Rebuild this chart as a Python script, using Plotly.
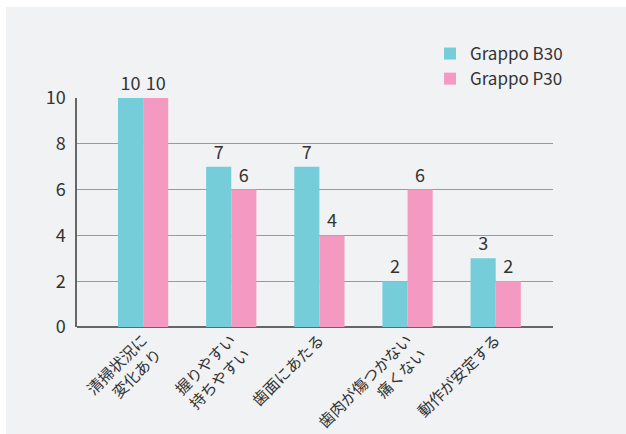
import plotly.graph_objects as go

categories = ["清掃状況に<br>変化あり", "握りやすい<br>持ちやすい", "歯面にあたる", "歯肉が傷つかない<br>痛くない", "動作が安定する"]
series_names = ["Grappo B30", "Grappo P30"]
b30 = [10, 7, 7, 2, 3]
p30 = [10, 6, 4, 6, 2]
y_ticks = [0, 2, 4, 6, 8, 10]

colors = ["#74CDD8", "#F49AC2"]
font_family = "Noto Sans CJK JP"

fig = go.Figure()
for name, vals, c in zip(series_names, [b30, p30], colors):
    fig.add_trace(go.Bar(
        x=categories, y=vals, name=name, marker_color=c, marker_line_width=0,
        text=[str(v) for v in vals], textposition="outside",
        textfont=dict(size=18, color="#333333", family=font_family),
        cliponaxis=False,
    ))

L, R, T, B = 77, 73, 98, 107
W, H = 626, 434
pw, ph = W - L - R, H - T - B

fig.update_layout(
    width=W, height=H,
    margin=dict(l=L, r=R, t=T, b=B, autoexpand=False),
    paper_bgcolor="#F1F2F4", plot_bgcolor="#F1F2F4",
    barmode="group", bargap=0.43, bargroupgap=0,
    font=dict(family=font_family, color="#333333"),
    legend=dict(x=(430 - L) / pw, y=(327 - 36) / ph, xanchor="left", yanchor="top",
                font=dict(size=17, color="#333333"), bgcolor="rgba(0,0,0,0)",
                tracegroupgap=0, itemsizing="constant"),
    xaxis=dict(range=[-0.75, 4.65], tickangle=-45, tickfont=dict(size=15.5, color="#333333"),
               showline=False, ticks="", showgrid=False, automargin=False),
    yaxis=dict(range=[0, 10], tickvals=y_ticks, tickfont=dict(size=18, color="#333333"),
               showgrid=True, gridcolor="#9A9A9A", gridwidth=1,
               showline=True, linecolor="#666666", linewidth=1.5,
               zeroline=True, zerolinecolor="#666666", zerolinewidth=1.5,
               ticks="", ticklabelstandoff=6, automargin=False),
    shapes=[
        dict(type="rect", xref="paper", yref="paper", x0=-1, x1=(6 - L) / pw, y0=-1, y1=3,
             fillcolor="white", line_width=0, layer="below"),
        dict(type="rect", xref="paper", yref="paper", x0=-1, x1=3, y0=(327 - 7) / ph, y1=3,
             fillcolor="white", line_width=0, layer="below"),
    ],
)

fig.write_html("out.html")
